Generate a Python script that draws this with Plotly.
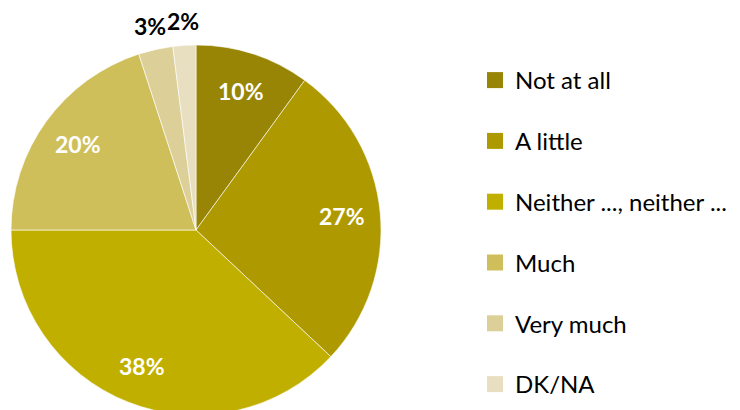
import math
import plotly.graph_objects as go

categories = ["Not at all", "A little", "Neither ..., neither ...", "Much", "Very much", "DK/NA"]
values = [10, 27, 38, 20, 3, 2]
colors = ["#988505", "#AE9A00", "#C1AF00", "#CFBF5B", "#DCD098", "#E8DFC0"]
label_inside = [True, True, True, True, False, False]

W, H = 740, 460
FONT = "Lato, 'Open Sans', sans-serif"

# pie geometry in pixels (paper)
PX0, PX1, PY0, PY1 = 11, 381, 45, 415
CX, CY, R = (PX0 + PX1) / 2, (PY0 + PY1) / 2, (PX1 - PX0) / 2

fig = go.Figure()
fig.add_trace(go.Pie(
    labels=categories,
    values=values,
    sort=False,
    direction="clockwise",
    rotation=0,
    marker=dict(colors=colors, line=dict(color="white", width=0.6)),
    textinfo="none",
    showlegend=False,
    hoverinfo="label+percent",
    domain=dict(x=[PX0 / W, PX1 / W], y=[1 - PY1 / H, 1 - PY0 / H]),
))

# data labels placed along each slice's mid-angle
total = sum(values)
cum = 0
for v, inside in zip(values, label_inside):
    mid = (cum + v / 2) / total * 2 * math.pi
    cum += v
    r = R * (0.79 if inside else 1.13)
    x = CX + r * math.sin(mid)
    y = CY - r * math.cos(mid)
    fig.add_annotation(
        x=x / W, y=1 - y / H, xref="paper", yref="paper",
        text=f"<b>{v}%</b>", showarrow=False,
        font=dict(family=FONT, size=23, color="white" if inside else "black"),
        xanchor="center", yanchor="middle",
    )

for cat, col in zip(categories, colors):
    fig.add_trace(go.Scatter(
        x=[None], y=[None], mode="markers", name=cat,
        marker=dict(symbol="square", size=16, color=col),
        legendgroup=cat, showlegend=True,
    ))

fig.update_layout(
    width=W, height=H,
    margin=dict(l=0, r=0, t=0, b=0),
    paper_bgcolor="white", plot_bgcolor="white",
    font=dict(family=FONT, size=24, color="black"),
    xaxis=dict(visible=False), yaxis=dict(visible=False),
    legend=dict(
        x=475 / W, xanchor="left", y=1 - 58 / H, yanchor="top",
        tracegroupgap=26.6, itemwidth=30, bgcolor="rgba(0,0,0,0)",
        font=dict(family=FONT, size=24, color="black"),
    ),
)

fig.write_html(
    "out.html",
    config={"displayModeBar": False},
    post_script="document.body.style.margin='0';document.body.style.overflow='hidden';",
)
